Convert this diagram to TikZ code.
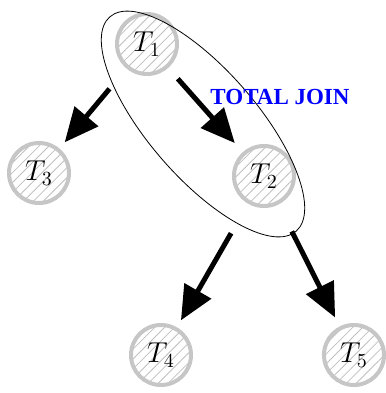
\documentclass[tikz,border=0pt]{standalone}
\usepackage{fontspec}
\usepackage{tikz}
\usetikzlibrary{arrows.meta,patterns.meta}
\newfontfamily\joinfont{Liberation Serif}

\begin{document}
\begin{tikzpicture}[x=0.5pt,y=-0.5pt,every node/.style={font=\Large}]
    \tikzstyle{tn}=[circle,draw=gray!45,line width=2pt,minimum size=30pt,inner sep=0pt,
                    pattern={Lines[angle=45,distance=3.5pt,line width=0.4pt]},pattern color=gray!50];
    \tikzstyle{arr}=[line width=2.5pt,-{Triangle[length=17pt,width=15pt]}];
    \useasboundingbox (0,0) rectangle (386,393);
    % --- nodes ---
    \node[tn] (t1) at (147,44)  {$T_1$};
    \node[tn] (t2) at (264,176) {$T_2$};
    \node[tn] (t3) at (39,173)  {$T_3$};
    \node[tn] (t4) at (161,355) {$T_4$};
    \node[tn] (t5) at (354,355) {$T_5$};
    % --- join group ---
    \draw[rotate around={-49:(203,124)}] (203,124) ellipse [x radius=71pt,y radius=27pt];
    \node[text=blue,font=\joinfont\fontsize{11.5pt}{13pt}\selectfont\bfseries] (join) at (280,97) {TOTAL JOIN};
    % --- edges ---
    \draw[arr,shorten <=14pt,shorten >=4pt] (t1) -- (t3);
    \draw[arr,shorten <=8pt,shorten >=6pt] (t1) -- (t2);
    \draw[arr,shorten <=17pt,shorten >=4pt] (t2) -- (t4);
    \draw[arr,shorten <=15pt,shorten >=5pt] (t2) -- (t5);
\end{tikzpicture}
\end{document}
